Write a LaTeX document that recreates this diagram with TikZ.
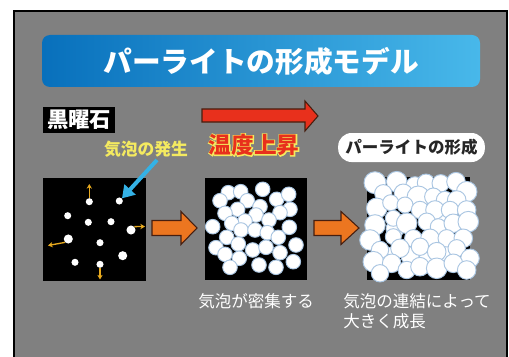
\documentclass[tikz,border=0pt]{standalone}
\usepackage{fontspec}
\setmainfont{Noto Sans CJK JP}
\newfontfamily\heatglowfont{Noto Sans CJK JP}[BoldFeatures={FakeBold=9}]
\usetikzlibrary{arrows.meta}

\definecolor{panelgray}{RGB}{128,128,128}
\definecolor{titleleft}{RGB}{8,112,188}
\definecolor{titleright}{RGB}{72,184,234}
\definecolor{heatred}{RGB}{232,48,28}
\definecolor{pushorange}{RGB}{236,118,32}
\definecolor{puffyellow}{RGB}{232,170,30}
\definecolor{gasyellow}{RGB}{244,234,96}
\definecolor{pointblue}{RGB}{52,178,230}
\definecolor{bubbleedge}{RGB}{170,198,226}
\definecolor{arrowedge}{RGB}{70,30,15}

\begin{document}
\begin{tikzpicture}[x=0.75pt,y=0.75pt,yscale=-1,xscale=1,
  pore/.style={circle,fill=white,inner sep=0pt,minimum size=#1},
  bubble/.style={fill=white,draw=bubbleedge,line width=0.7pt},
  puff/.style={draw=puffyellow,line width=1pt,-{Stealth[length=3.5pt,width=4pt]}},
  blockarrow/.style={draw=arrowedge,line width=0.8pt,line join=miter},
  caption/.style={anchor=north west,inner sep=0.75pt,text=white,font=\fontsize{12.4}{15}\selectfont,align=left}]
\useasboundingbox (0,0) rectangle (509,356);

%Shape: Panel
\fill[panelgray] (14,11) rectangle (507,362);
\draw[line width=1.2pt] (14,362) -- (14,11) -- (507,11) -- (507,362);

%Shape: Title bar
\shade[left color=titleleft,right color=titleright,rounded corners=6pt] (42,35) rectangle (480,87);
% Text Node
\draw (261,61) node [text=white,font=\fontsize{21.5}{22}\selectfont\bfseries] (title) {パーライトの形成モデル};

% Text Node
\draw (79,120) node [fill=black,text=white,inner sep=0pt,minimum width=54pt,minimum height=19.5pt,font=\fontsize{16}{16}\selectfont\bfseries] (obsidian) {黒曜石};

%Shape: Heating arrow
\draw[blockarrow,fill=heatred] (202,109) -- (305,109) -- (305,101) -- (318,116) -- (305,131) -- (305,122) -- (202,122) -- cycle;
% Text Node (yellow halo under the red letters)
\draw (254,145) node [text=gasyellow,font=\fontsize{17}{17}\selectfont\heatglowfont\bfseries] (heatglow) {温度上昇};
\draw (heatglow.center) node [text=heatred,font=\fontsize{17}{17}\selectfont\bfseries] (heat) {温度上昇};

% Text Node
\draw (146,149) node [text=gasyellow,font=\fontsize{12.6}{13}\selectfont\bfseries] (gas) {気泡の発生};

% Text Node
\draw (411.5,147.5) node [fill=white,rounded corners=10pt,minimum width=110pt,minimum height=21.75pt,inner sep=0pt,text=black!85,font=\fontsize{12.4}{13}\selectfont\bfseries] (perlite) {パーライトの形成};

%Shape: Obsidian square with first pores
\fill (43,178) rectangle (146,281);
\foreach \n/\px/\py/\d in {1/89.3/201.7/5.3, 2/119.3/201/5.3, 3/67.7/215.7/5.3, 4/88.3/222.3/5.3,
    5/111/221.7/5.3, 6/131/230/6.8, 7/68.3/239/6.8, 8/100/242.7/5.3,
    9/122.7/255.7/6.8, 10/75/262.3/5.3, 11/100/264.3/5.3}
  \node[pore=\d pt] (d\n) at (\px,\py) {};

\coordinate (up) at (89.3,184);
\coordinate (right) at (145,226.5);
\coordinate (left) at (48,245.5);
\coordinate (down) at (100,279.5);
\draw[puff] (d1.north) -- (up);
\draw[puff] (d6.north east) -- (right);
\draw[puff] (d7.south west) -- (left);
\draw[puff] (d11.south) -- (down);

\coordinate (gasfoot) at (157,160);
\draw[pointblue,line width=3pt,-{Triangle[length=9pt,width=11pt]}] (gasfoot) -- (d2.north east);

%Shape: Dense bubbles
\fill (205,178) rectangle (307,280);
\foreach \px/\py in {228.3/192.7, 240.7/191.7, 262.7/189.3, 220/200.7, 247.3/200.7, 276.7/199.3,
    288.7/194.3, 237.7/209.3, 260/206.7, 290/209.3, 280/212.7, 225/213.3, 256/215, 245/221,
    269/220, 231.7/223.3, 212.7/226.7, 289.3/227.3, 241/230, 255/230, 267.3/232.7, 226.7/237.3,
    278.3/237.3, 238.3/244, 216/247.7, 252.7/250, 266/247.3, 296/245, 225/254.3, 280/252.7,
    239.3/258.3, 259/265, 276/267.3, 293.3/261.7, 230/267.3}
  \draw[bubble] (\px,\py) circle (7.3);

%Shape: Joined bubbles
\fill (367,177) rectangle (470,280);
\foreach \px/\py/\r in {395/229/7, 444/218/6, 387/256/7, 428/259/7, 448/254/7, 410/256/7,
    375/182.7/9, 396.7/181.7/8.3, 415/186/7.3, 426/182.7/6.7, 440.7/183.3/6.7,
    456/181.7/7.3, 466.7/191.7/8.3, 383.3/193.3/6.7, 403.3/193.3/7.3, 418.3/197.3/9.3,
    433.3/196.7/6.7, 445/200/6.7, 456.7/200/7.3, 376.7/208.3/8.3, 390.7/202.7/6, 405/205/6,
    420/210/6.7, 435/210/7.3, 450/210/6.7, 466.7/210/7.3, 393.3/218.3/6, 406.7/223.3/8.3,
    426.7/221.7/6.7, 438.3/226.7/6, 453.3/223.3/7.3, 468.3/221.7/8.3, 375/225/8.3, 370/240/8.3,
    393.3/236.7/6, 413.3/238.3/6.7, 430/238.3/7.3, 446.7/238.3/6.7, 463.3/238.3/7.3,
    380/250/6.7, 400/248.3/7.3, 420/246.7/6.7, 436.7/251.7/7.3, 456.7/248.3/6.7, 470/258.3/7.3,
    373.3/261.7/8.3, 391.7/263.3/7.3, 406.7/270/6.7, 420/266.7/7.3, 436.7/268.3/8.3,
    453.3/263.3/7.3, 466.7/270/7.3, 380/273.3/6.7}
  \draw[bubble] (\px,\py) circle ({\r+2});

%Shape: Step arrows
\draw[blockarrow,fill=pushorange] (152,220.5) -- (181,220.5) -- (181,211.5) -- (197,228) -- (181,244.5) -- (181,235.5) -- (152,235.5) -- cycle;
\draw[blockarrow,fill=pushorange] (314,220.5) -- (341,220.5) -- (341,211.5) -- (359,228) -- (341,244.5) -- (341,235.5) -- (314,235.5) -- cycle;

% Text Node
\draw (197,292) node [caption] (dense) {気泡が密集する};
% Text Node
\draw (342,292) node [caption] (grow) {気泡の連結によって\\大きく成長};
\end{tikzpicture}
\end{document}
